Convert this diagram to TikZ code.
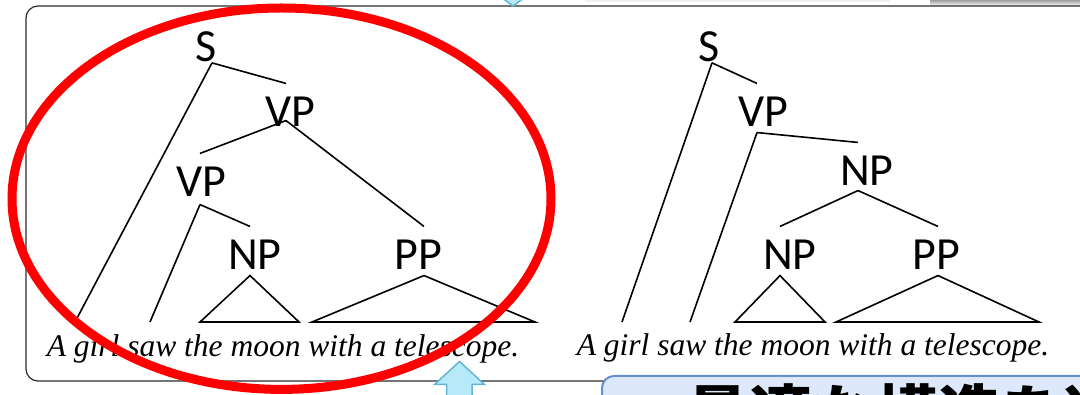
\documentclass[tikz,border=0pt]{standalone}
\usepackage{fontspec}
\setmainfont{Liberation Serif}
\setsansfont{Carlito}
\newfontfamily\jpfont{Noto Sans CJK JP}
\definecolor{cred}{HTML}{FF0000}
\definecolor{cframe}{HTML}{2B2B2B}
\definecolor{cfill}{HTML}{B6EAF9}
\definecolor{cline}{HTML}{63B5D3}
\definecolor{cboxfill}{HTML}{DDE8FA}
\definecolor{cboxline}{HTML}{6790CC}
\tikzset{
  every picture/.style={line width=1.6pt},
  cat/.style={font=\sffamily\fontsize{46}{50}\selectfont, inner sep=0pt},
  edge/.style={draw=black, line width=1.6pt},
  sent/.style={font=\rmfamily\itshape\fontsize{31.5}{36}\selectfont, inner sep=0pt},
  frame/.style={draw=cframe, line width=1.2pt, rounded corners=12pt},
  blockarrow/.style={draw=cline, fill=cfill, line width=1.5pt},
  jpbox/.style={draw=cboxline, fill=cboxfill, line width=2pt, rounded corners=12pt},
  jp/.style={font=\jpfont\bfseries\fontsize{63}{70}\selectfont, inner sep=0pt},
  circled/.style={draw=cred, line width=9pt},
}

\begin{document}
\begin{tikzpicture}[x=1pt, y=-1pt]
  \useasboundingbox (0,0) rectangle (1080,395);
  \clip (0,0) rectangle (1080,395);
  % slide bits above the panel
  \fill[black!6] (585,-4) rectangle (890,2);
  \shade[top color=black!50, bottom color=white] (930,-2) rectangle (1080,6);
  \draw[frame] (26,6) rectangle (1110,381);
  % constituents: name/x/y/label/junction dx/stem dy
  \foreach \n/\x/\y/\t/\dx/\dy in {lS/206/47/S/6/0, lVP/290/112/VP/-4/7, lVPb/201/182/VP/-1/-7,
      lNP/255/255/NP/-5/-5, lPP/418/255/PP/6/-5,
      rS/709/47/S/3/0, rVP/763/112/VP/-6/-5, rNP/867/171/NP/-9/-4,
      rNPb/790/255/NP/-10/-5, rPP/936/255/PP/2/-5} {
    \node[cat] (\n) at (\x,\y) {\t};
    \coordinate (\n-in) at ([xshift=\dx pt, yshift=13pt]\n.north);
    \coordinate (\n-out) at ([xshift=\dx pt, yshift=\dy pt]\n.south);
  }
  % word ends
  \foreach \n/\x in {lA/75, lsaw/150, lNP1/200, lNP2/299, lPP1/312, lPP2/535,
      rA/622, rsaw/690, rNPb1/735, rNPb2/825, rPP1/836, rPP2/1039}
    \coordinate (\n) at (\x,322);
  \foreach \a/\b in {lS/lVP, lVP/lVPb, lVPb/lNP, lVP/lPP, rS/rVP, rVP/rNP, rNP/rNPb, rNP/rPP}
    \draw[edge] (\a-out) -- (\b-in);
  \foreach \a/\b in {lS/lA, lVPb/lsaw, rS/rA, rVP/rsaw}
    \draw[edge] (\a-out) -- (\b);
  \foreach \a in {lNP, lPP, rNPb, rPP}
    \draw[edge] (\a-out) -- (\a1) -- (\a2) -- cycle;
  \node[sent, anchor=base] (lsent) at (283,357) {A girl saw the moon with a telescope.};
  \node[sent, anchor=base] (rsent) at (813,356) {A girl saw the moon with a telescope.};
  % arrows and caption box
  \draw[blockarrow] (486,-14) -- (513,6) -- (540,-14) -- cycle;
  \draw[blockarrow] (459.5,361.5) -- (484.5,384.5) -- (472,384.5) -- (472,420)
    -- (446.5,420) -- (446.5,384.5) -- (434.5,384.5) -- cycle;
  \draw[jpbox] (602,376) rectangle (1120,450);
  \node[jp, anchor=base west] (caption) at (686,438) {最適な構造を選};
  \draw[circled] (281.5,198.7) ellipse [x radius=269.5pt, y radius=190.7pt];
\end{tikzpicture}
\end{document}
